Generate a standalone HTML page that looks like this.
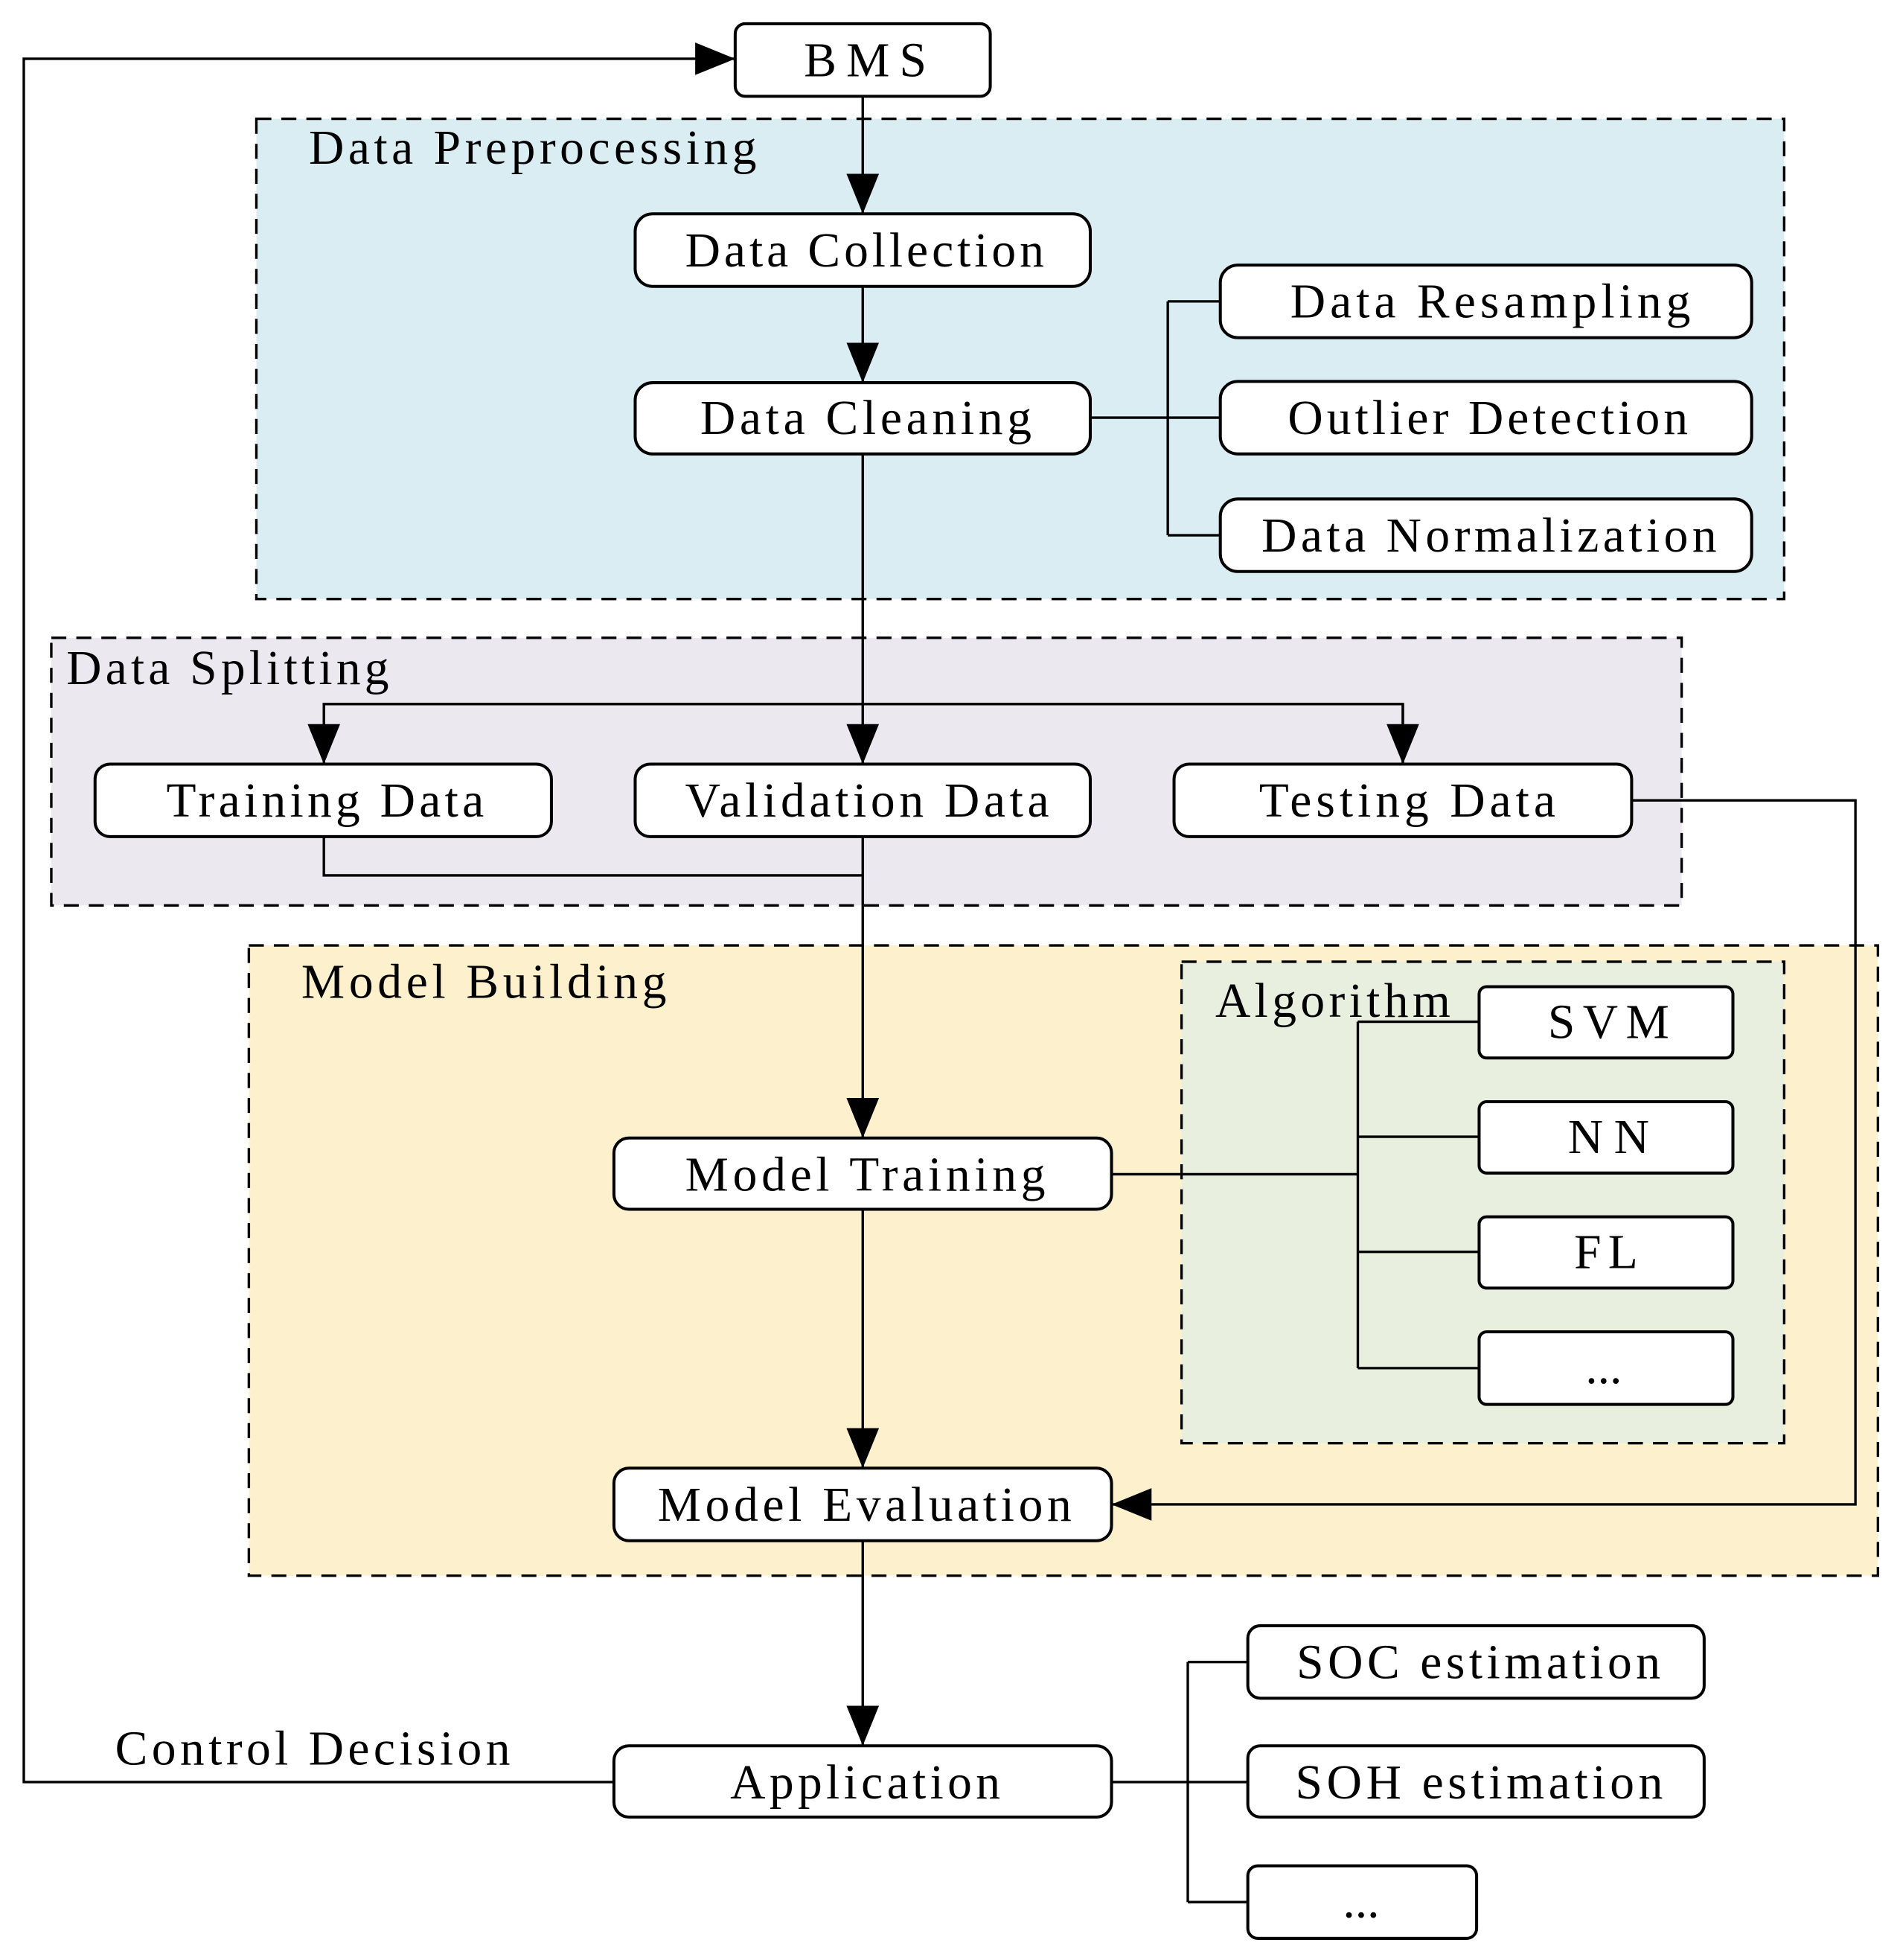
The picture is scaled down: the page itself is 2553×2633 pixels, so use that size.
<!DOCTYPE html>
<html><head><meta charset="utf-8"><style>
html,body{margin:0;padding:0;background:#fff}
svg{display:block}
text{font-family:"Liberation Serif",serif;font-size:39px;fill:#000}
</style></head><body>
<svg width="2553" height="2633" viewBox="0 0 1519.6 1567.3" xmlns="http://www.w3.org/2000/svg">
<defs>
<marker id="a" markerUnits="userSpaceOnUse" markerWidth="34" markerHeight="26" refX="32" refY="13" orient="auto">
<path d="M0,0 L32,13 L0,26 Z" fill="#000"/>
</marker>
</defs>
<g stroke="#000" stroke-width="2" stroke-dasharray="12 8">
<rect x="205" y="95" width="1222" height="384" fill="#daedf3"/>
<rect x="41" y="510" width="1304" height="214" fill="#ebe8f0"/>
<rect x="199" y="756" width="1303" height="504" fill="#fdf0cd"/>
<rect x="945" y="769" width="482" height="385" fill="#e8efde"/>
</g>
<g fill="none" stroke="#000" stroke-width="2">
<path d="M690,77 V171" marker-end="url(#a)"/>
<path d="M690,229 V306" marker-end="url(#a)"/>
<path d="M690,363 V611" marker-end="url(#a)"/>
<path d="M259,611 V563 H1122 V611" />
<path d="M259,563 V611" marker-end="url(#a)"/>
<path d="M1122,563 V611" marker-end="url(#a)"/>
<path d="M872,334 H976 M934,241 V428 M934,241 H976 M934,428 H976"/>
<path d="M259,669 V700 H690"/>
<path d="M690,669 V910" marker-end="url(#a)"/>
<path d="M690,967 V1174" marker-end="url(#a)"/>
<path d="M1305,640 H1484 V1203 H889" marker-end="url(#a)"/>
<path d="M889,939 H1086 M1086,817 V1094 M1086,817 H1183 M1086,909 H1183 M1086,1001 H1183 M1086,1094 H1183"/>
<path d="M690,1232 V1396" marker-end="url(#a)"/>
<path d="M889,1425 H998 M950,1329 V1521 M950,1329 H998 M950,1521 H998"/>
<path d="M491,1425 H19 V47 H588" marker-end="url(#a)"/>
</g>
<g fill="#fff" stroke="#000" stroke-width="2.4">
<rect x="588" y="19" width="204" height="58" rx="8"/>
<rect x="508" y="171" width="364" height="58" rx="14"/>
<rect x="508" y="306" width="364" height="57" rx="14"/>
<rect x="976" y="212" width="425" height="58" rx="14"/>
<rect x="976" y="305" width="425" height="58" rx="14"/>
<rect x="976" y="399" width="425" height="58" rx="14"/>
<rect x="76" y="611" width="365" height="58" rx="12"/>
<rect x="508" y="611" width="364" height="58" rx="12"/>
<rect x="939" y="611" width="366" height="58" rx="12"/>
<rect x="1183" y="789" width="203" height="57" rx="6"/>
<rect x="1183" y="881" width="203" height="57" rx="6"/>
<rect x="1183" y="973" width="203" height="57" rx="6"/>
<rect x="1183" y="1065" width="203" height="58" rx="6"/>
<rect x="491" y="910" width="398" height="57" rx="12"/>
<rect x="491" y="1174" width="398" height="58" rx="12"/>
<rect x="491" y="1396" width="398" height="57" rx="12"/>
<rect x="998" y="1300" width="365" height="58" rx="10"/>
<rect x="998" y="1396" width="365" height="57" rx="10"/>
<rect x="998" y="1492" width="183" height="58" rx="8"/>
</g>
<g>
<text x="643" y="61" textLength="98" lengthAdjust="spacing">BMS</text>
<text x="247" y="131" textLength="358" lengthAdjust="spacing">Data Preprocessing</text>
<text x="548" y="213" textLength="287" lengthAdjust="spacing">Data Collection</text>
<text x="560" y="347" textLength="265" lengthAdjust="spacing">Data Cleaning</text>
<text x="1032" y="254" textLength="320" lengthAdjust="spacing">Data Resampling</text>
<text x="1030" y="347" textLength="320" lengthAdjust="spacing">Outlier Detection</text>
<text x="1009" y="441" textLength="364" lengthAdjust="spacing">Data Normalization</text>
<text x="53" y="547" textLength="258" lengthAdjust="spacing">Data Splitting</text>
<text x="133" y="653" textLength="254" lengthAdjust="spacing">Training Data</text>
<text x="548" y="653" textLength="291" lengthAdjust="spacing">Validation Data</text>
<text x="1007" y="653" textLength="237" lengthAdjust="spacing">Testing Data</text>
<text x="241" y="798" textLength="292" lengthAdjust="spacing">Model Building</text>
<text x="972" y="813" textLength="188" lengthAdjust="spacing">Algorithm</text>
<text x="1238" y="830" textLength="97" lengthAdjust="spacing">SVM</text>
<text x="1254" y="922" textLength="65" lengthAdjust="spacing">NN</text>
<text x="1259" y="1014" textLength="51" lengthAdjust="spacing">FL</text>
<text x="1268" y="1106">...</text>
<text x="548" y="952" textLength="288" lengthAdjust="spacing">Model Training</text>
<text x="526" y="1216" textLength="331" lengthAdjust="spacing">Model Evaluation</text>
<text x="584" y="1438" textLength="216" lengthAdjust="spacing">Application</text>
<text x="1037" y="1342" textLength="291" lengthAdjust="spacing">SOC estimation</text>
<text x="1036" y="1438" textLength="294" lengthAdjust="spacing">SOH estimation</text>
<text x="1074" y="1533">...</text>
<text x="92" y="1411" textLength="316" lengthAdjust="spacing">Control Decision</text>
</g>
</svg>
</body></html>
